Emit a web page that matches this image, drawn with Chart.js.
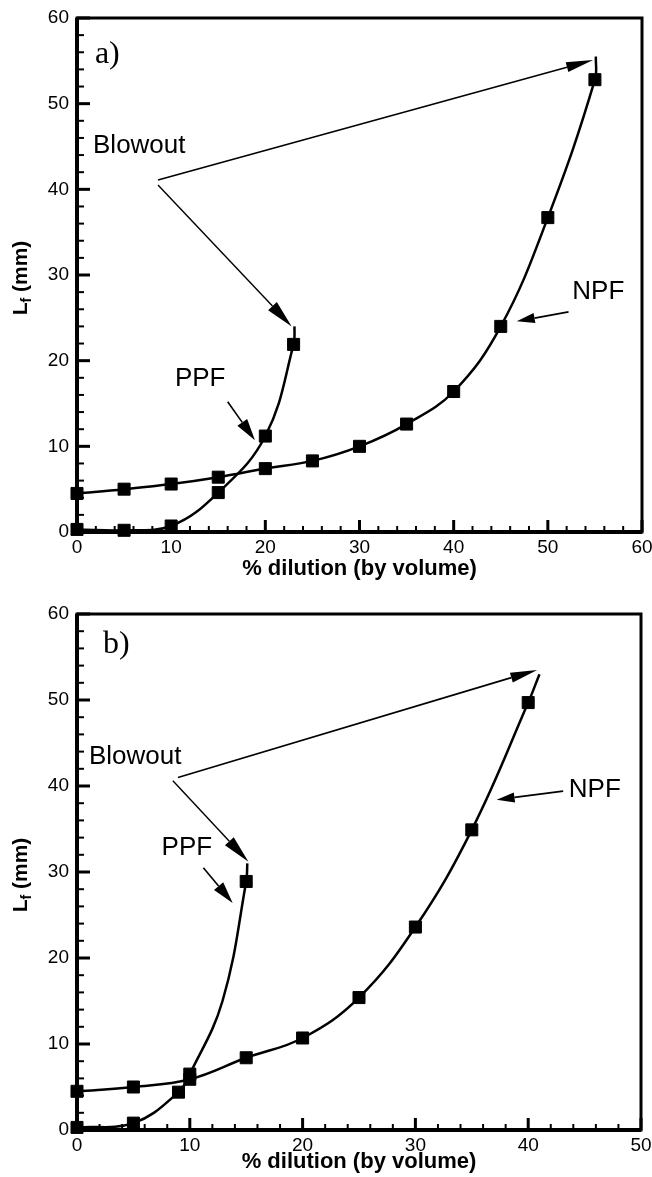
<!DOCTYPE html>
<html>
<head>
<meta charset="utf-8">
<script src="https://cdn.jsdelivr.net/npm/chart.js@4.4.1/dist/chart.umd.min.js"></script>
<style>
  html, body { margin: 0; padding: 0; background: #fff; }
  .box { position: relative; width: 652px; }
  #boxA { height: 590px; }
  #boxB { height: 587px; }
</style>
</head>
<body>
<div class="box" id="boxA"><canvas id="chartA"></canvas></div>
<div class="box" id="boxB"><canvas id="chartB"></canvas></div>
<script>
// panel a) measured points
const dilA_ppf = [0, 5, 10, 15, 20, 23];
const lenA_ppf = [0.3, 0.2, 0.7, 4.6, 11.2, 21.9];
const dilA_npf = [0, 5, 10, 15, 20, 25, 30, 35, 40, 45, 50, 55];
const lenA_npf = [4.5, 5.0, 5.6, 6.4, 7.4, 8.3, 10.0, 12.6, 16.4, 24.0, 36.7, 52.8];
// fitted curve read off the figure where it leaves the markers (no symbol)
const fitA_ppfX = [23.1], fitA_ppfY = [24.0];
const fitA_npfX = [55.1], fitA_npfY = [55.5];

// panel b) measured points
const dilB_ppf = [0, 5, 9, 10, 15];
const lenB_ppf = [0.3, 0.8, 4.4, 6.5, 28.9];
const dilB_npf = [0, 5, 10, 15, 20, 25, 30, 35, 40];
const lenB_npf = [4.5, 5.0, 5.9, 8.4, 10.7, 15.4, 23.6, 34.9, 49.7];
const fitB_ppfX = [12.9, 15.1], fitB_ppfY = [15.0, 31.0];
const fitB_npfX = [41.0], fitB_npfY = [53.0];

const xMaxA = 60, xMaxB = 50, yMax = 60;
const xTitle = '% dilution (by volume)';

const SANS = '"Liberation Sans", Arial, sans-serif';

function pts(xs, ys) { return xs.map((x, i) => ({ x: x, y: ys[i] })); }

function series(xs, ys, fx, fy) {
  const line = pts(xs, ys).concat(pts(fx, fy)).sort((a, b) => a.x - b.x);
  return [
    { data: line, borderColor: '#000', borderWidth: 2.5, pointRadius: 0, tension: 0.4, clip: false },
    { data: pts(xs, ys), showLine: false, backgroundColor: '#000', pointStyle: 'rect',
      pointBorderColor: '#000', pointBorderWidth: 1, pointRadius: 8.5, clip: false }
  ];
}

function drawArrow(ctx, x1, y1, x2, y2, head, half, lw) {
  const ang = Math.atan2(y2 - y1, x2 - x1);
  const bx = x2 - Math.cos(ang) * head, by = y2 - Math.sin(ang) * head;
  ctx.lineWidth = lw;
  ctx.beginPath(); ctx.moveTo(x1, y1); ctx.lineTo(bx, by); ctx.stroke();
  ctx.beginPath();
  ctx.moveTo(x2, y2);
  ctx.lineTo(bx + Math.sin(ang) * half, by - Math.cos(ang) * half);
  ctx.lineTo(bx - Math.sin(ang) * half, by + Math.cos(ang) * half);
  ctx.closePath(); ctx.fill();
}

const framePlugin = {
  id: 'frame',
  beforeDatasetsDraw(chart) {
    const { ctx, chartArea: { left, right, top, bottom }, scales: { x, y } } = chart;
    ctx.save();
    ctx.strokeStyle = '#000';
    x.ticks.forEach(t => {
      const px = x.getPixelForValue(t.value), major = t.value % 10 === 0;
      ctx.lineWidth = major ? 3 : 2;
      ctx.beginPath(); ctx.moveTo(px, bottom); ctx.lineTo(px, bottom - (major ? 12 : 6)); ctx.stroke();
    });
    y.ticks.forEach(t => {
      const py = y.getPixelForValue(t.value), major = t.value % 10 === 0;
      ctx.lineWidth = major ? 3 : 2;
      ctx.beginPath(); ctx.moveTo(left, py); ctx.lineTo(left + (major ? 13 : 7), py); ctx.stroke();
    });
    ctx.lineWidth = 3;
    ctx.strokeRect(left, top, right - left, bottom - top);
    ctx.lineWidth = 4;
    ctx.beginPath(); ctx.moveTo(left, top); ctx.lineTo(left, bottom); ctx.lineTo(right, bottom); ctx.stroke();
    ctx.restore();
  }
};

const notesPlugin = {
  id: 'notes',
  afterDatasetsDraw(chart, args, opts) {
    const { ctx, chartArea: { top, bottom }, scales: { x, y } } = chart;
    const X = v => x.getPixelForValue(v), Y = v => y.getPixelForValue(v);
    ctx.save();
    ctx.strokeStyle = '#000'; ctx.fillStyle = '#000';
    opts.arrows.forEach(a => drawArrow(ctx, X(a[0]), Y(a[1]), X(a[2]), Y(a[3]), a[4], a[5], a[6]));
    ctx.textBaseline = 'middle'; ctx.textAlign = 'left';
    opts.labels.forEach(l => { ctx.font = l[3]; ctx.fillText(l[0], X(l[1]), Y(l[2])); });
    // y axis title  L_f (mm)
    const big = 'bold 21px ' + SANS, small = 'bold 14px ' + SANS;
    ctx.font = big; const wL = ctx.measureText('L').width, wR = ctx.measureText(' (mm)').width;
    ctx.font = small; const wf = ctx.measureText('f').width;
    const total = wL + wf + wR;
    ctx.translate(21, (top + bottom) / 2 + 3);
    ctx.rotate(-Math.PI / 2);
    let cx = -total / 2;
    ctx.font = big; ctx.fillText('L', cx, 0); cx += wL;
    ctx.font = small; ctx.fillText('f', cx, 6); cx += wf;
    ctx.font = big; ctx.fillText(' (mm)', cx, 0);
    ctx.restore();
  }
};

function makeChart(id, datasets, xMax, pad, xAxisH, titlePad, notes) {
  return new Chart(document.getElementById(id), {
    type: 'line',
    data: { datasets: datasets },
    options: {
      responsive: true, maintainAspectRatio: false, animation: false, events: [],
      layout: { padding: pad },
      plugins: { legend: { display: false }, tooltip: { enabled: false }, notes: notes },
      scales: {
        x: {
          type: 'linear', min: 0, max: xMax,
          grid: { display: false, drawTicks: false }, border: { display: false },
          ticks: { stepSize: 2, autoSkip: false, maxRotation: 0, padding: 4, color: '#000',
                   font: { family: SANS, size: 19 }, callback: v => v % 10 === 0 ? v : '' },
          title: { display: true, text: xTitle, color: '#000', padding: { top: 0, bottom: titlePad },
                   font: { family: SANS, size: 22, weight: 'bold' } },
          afterFit: s => { s.height = xAxisH; s.paddingLeft = 0; s.paddingRight = 0; }
        },
        y: {
          min: 0, max: yMax,
          grid: { display: false, drawTicks: false }, border: { display: false },
          ticks: { stepSize: 2, autoSkip: false, padding: 8, color: '#000',
                   font: { family: SANS, size: 19 }, callback: v => v % 10 === 0 ? v : '' },
          afterFit: s => { s.width = 77; s.paddingTop = 0; s.paddingBottom = 0; }
        }
      }
    },
    plugins: [framePlugin, notesPlugin]
  });
}

const arrowsA = [
  [8.6, 41.1, 54.8, 55.1, 27, 5, 1.6],
  [8.6, 40.5, 22.8, 24.0, 28, 6, 1.4],
  [16.0, 15.2, 18.9, 10.7, 22, 6, 1.6],
  [52.2, 25.7, 46.7, 24.6, 18, 5, 1.8]
];
const labelsA = [
  ['Blowout', 1.7, 45.1, '26px ' + SANS],
  ['PPF', 10.4, 17.9, '26px ' + SANS],
  ['NPF', 52.6, 28.0, '26px ' + SANS],
  ['a)', 1.9, 55.7, '32px "Liberation Serif", "Times New Roman", serif']
];
const arrowsB = [
  [8.95, 41.0, 40.8, 53.5, 27, 5, 1.6],
  [8.5, 40.6, 15.2, 31.2, 28, 6, 1.4],
  [11.2, 30.5, 13.8, 26.4, 22, 6, 1.6],
  [43.1, 39.4, 37.2, 38.4, 18, 5, 1.8]
];
const labelsB = [
  ['Blowout', 1.06, 43.4, '26px ' + SANS],
  ['PPF', 7.5, 32.8, '26px ' + SANS],
  ['NPF', 43.6, 39.5, '26px ' + SANS],
  ['b)', 2.3, 56.4, '32px "Liberation Serif", "Times New Roman", serif']
];

makeChart('chartA',
  series(dilA_ppf, lenA_ppf, fitA_ppfX, fitA_ppfY).concat(series(dilA_npf, lenA_npf, fitA_npfX, fitA_npfY)),
  xMaxA, { top: 18, right: 10, left: 0, bottom: 0 }, 58, 7.8, { arrows: arrowsA, labels: labelsA });
makeChart('chartB',
  series(dilB_ppf, lenB_ppf, fitB_ppfX, fitB_ppfY).concat(series(dilB_npf, lenB_npf, fitB_npfX, fitB_npfY)),
  xMaxB, { top: 24, right: 11, left: 0, bottom: 0 }, 47, 1.8, { arrows: arrowsB, labels: labelsB });
</script>
</body>
</html>
